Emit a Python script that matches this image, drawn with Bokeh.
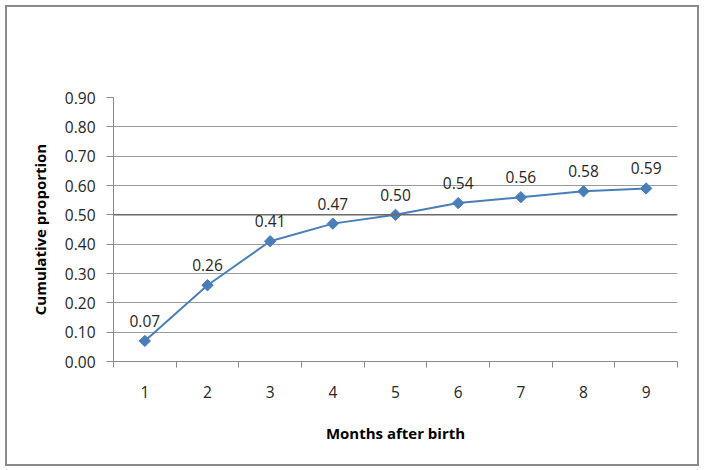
import math
from bokeh.plotting import figure
from bokeh.models import ColumnDataSource, FixedTicker, Span, LabelSet, Range1d, PrintfTickFormatter
from bokeh.core.properties import value
from bokeh.embed import file_html
from bokeh.resources import INLINE

months = [1, 2, 3, 4, 5, 6, 7, 8, 9]
proportion = [0.07, 0.26, 0.41, 0.47, 0.50, 0.54, 0.56, 0.58, 0.59]
labels = ["0.07", "0.26", "0.41", "0.47", "0.50", "0.54", "0.56", "0.58", "0.59"]
y_ticks = [0.0, 0.1, 0.2, 0.3, 0.4, 0.5, 0.6, 0.7, 0.8, 0.9]
reference_line = 0.5

FONT = "Open Sans"
TEXT = "#262626"
LINE = "#4A7EBB"
GRID = "#9a9a9a"

src = ColumnDataSource(dict(x=months, y=proportion, lab=labels))

p = figure(width=694, height=461, output_backend="svg", toolbar_location=None,
           x_range=Range1d(0.5, 9.5), y_range=Range1d(0, 0.9),
           min_border_left=106, min_border_right=24, min_border_top=90, min_border_bottom=107)
p.styles = {"border": "2px solid #8a8a8a", "box-sizing": "border-box",
            "margin-left": "5px", "margin-top": "5px"}
p.outline_line_color = None
p.background_fill_color = "white"
p.border_fill_color = "white"

# x axis
p.xaxis.ticker = FixedTicker(ticks=months, minor_ticks=[m - 0.5 for m in months] + [9.5])
p.xaxis.major_tick_out = 0
p.xaxis.major_tick_in = 0
p.xaxis.minor_tick_out = 6
p.xaxis.minor_tick_in = 0
p.xaxis.minor_tick_line_color = "#8a8a8a"
p.xaxis.axis_line_color = "#8a8a8a"
p.xaxis.major_label_standoff = 18
p.xaxis.axis_label = "Months after birth"
p.xaxis.axis_label_standoff = 22

# y axis
p.yaxis.ticker = FixedTicker(ticks=y_ticks)
p.yaxis.major_tick_out = 7
p.yaxis.major_tick_in = 0
p.yaxis.minor_tick_line_color = None
p.yaxis.major_tick_line_color = "#8a8a8a"
p.yaxis.axis_line_color = "#8a8a8a"
p.yaxis.major_label_standoff = 11
p.yaxis.axis_label = "Cumulative proportion"
p.yaxis.axis_label_standoff = 12
p.yaxis.formatter = PrintfTickFormatter(format="%.2f")

for ax in (p.xaxis, p.yaxis):
    ax.major_label_text_font = FONT
    ax.major_label_text_font_size = "15.5px"
    ax.major_label_text_color = TEXT
    ax.axis_label_text_font = FONT
    ax.axis_label_text_font_size = "15px"
    ax.axis_label_text_font_style = "bold"
    ax.axis_label_text_color = "black"

p.xgrid.grid_line_color = None
p.ygrid.grid_line_color = GRID
p.ygrid.grid_line_width = 1

p.add_layout(Span(location=reference_line, dimension="width", line_color="#6a6a6a", line_width=1.5))

p.line("x", "y", source=src, line_color=LINE, line_width=2)
p.scatter("x", "y", source=src, marker="square", angle=math.pi / 4, size=8,
          fill_color=LINE, line_color=LINE)

p.add_layout(LabelSet(x="x", y="y", text="lab", source=src, text_align="center",
                      text_baseline="bottom", y_offset=14, text_font=value(FONT),
                      text_font_size="15.5px", text_color=TEXT))

open("out.html", "w").write(file_html(p, INLINE))
